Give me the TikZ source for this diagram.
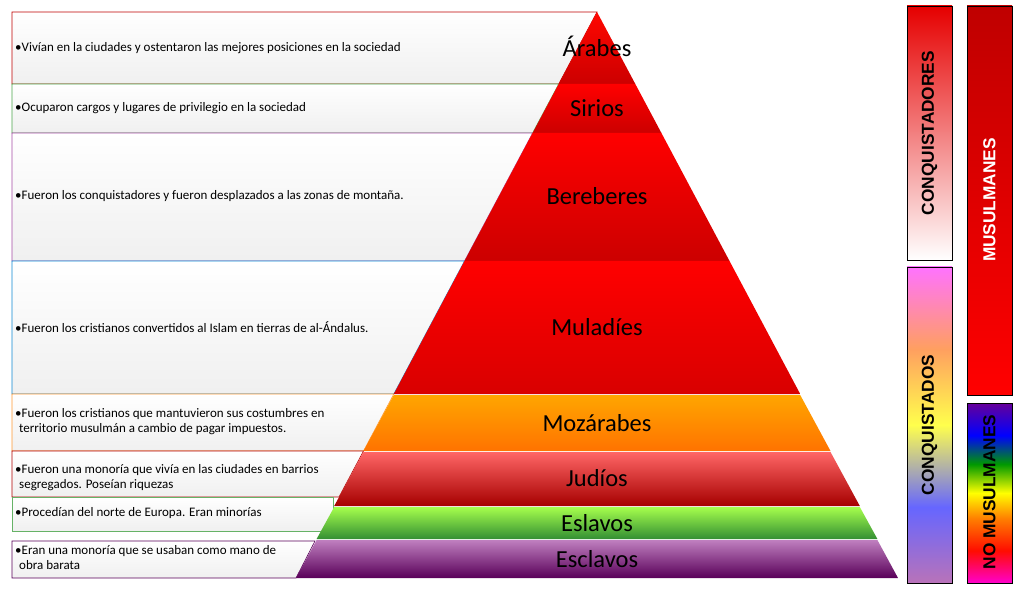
\documentclass[tikz,border=0pt]{standalone}
\usepackage{fontspec}
\setmainfont{Carlito}
\newfontfamily\barfont{Liberation Sans Bold}
\usetikzlibrary{calc}
\pgfdeclareverticalshading{conqdos}{100bp}{color(0bp)=(violet!55!white); color(25bp)=(violet!55!white); color(37bp)=(blue!60!white); color(50bp)=(yellow!70!white); color(62bp)=(orange!50!pink); color(75bp)=(magenta!55!white); color(100bp)=(magenta!55!white)}
\pgfdeclareverticalshading{nomus}{100bp}{color(0bp)=(magenta!80!red); color(25bp)=(magenta!80!red); color(34bp)=(red!90!orange); color(43bp)=(orange); color(50bp)=(yellow); color(58bp)=(green!60!black); color(66bp)=(blue); color(75bp)=(violet!80!blue); color(100bp)=(violet!80!blue)}
\tikzset{
 txt/.style={anchor=west,font=\fontsize{13}{15}\selectfont,align=left,inner sep=0pt},
 lab/.style={font=\fontsize{24.5}{27}\selectfont},
 lbox/.style={top color=white,bottom color=black!6,draw=#1,line width=0.6pt},
 bar/.style={draw=black,line width=0.8pt},
 barlab/.style={rotate=90,font=\barfont\fontsize{17.3}{19}\selectfont}
}
\begin{document}
\begin{tikzpicture}[x=1pt,y=-1pt]
\useasboundingbox (0,0) rectangle (1022,593);
\fill[white] (0,0) rectangle (1022,593);
% left boxes
\path[lbox=red!75!black] (12,12) -- (597,12) -- (558.7,84) -- (12,84) -- cycle;
\path[lbox=green!50!black!70] (12,84) -- (558.7,84) -- (532.6,133) -- (12,133) -- cycle;
\path[lbox=violet!70] (12,133) -- (532.6,133) -- (464.5,261) -- (12,261) -- cycle;
\path[lbox=cyan!70!blue] (12,261) -- (464.5,261) -- (393.8,394) -- (12,394) -- cycle;
\path[lbox=orange!80] (12,394) -- (393.8,394) -- (363.5,451) -- (12,451) -- cycle;
\path[lbox=red!70!black] (12,451) -- (363.5,451) -- (339,497) -- (12,497) -- cycle;
\path[lbox=green!50!black!60] (12,497) rectangle (333,531);
\path[lbox=violet!70!black] (12,541) -- (315,541) -- (296,578) -- (12,578) -- cycle;
% texts
\node[txt] (t1) at (15,48) {•Vivían en la ciudades y ostentaron las mejores posiciones en la sociedad};
\node[txt] (t2) at (15,108) {•Ocuparon cargos y lugares de privilegio en la sociedad};
\node[txt] (t3) at (15,196) {•Fueron los conquistadores y fueron desplazados a las zonas de montaña.};
\node[txt] (t4) at (15,327) {•Fueron los cristianos convertidos al Islam en tierras de al-Ándalus.};
\node[txt] (t5) at (15,422) {•Fueron los cristianos que mantuvieron sus costumbres en\\\hspace*{4pt}territorio musulmán a cambio de pagar impuestos.};
\node[txt] (t6) at (15,478) {•Fueron una monoría que vivía en las ciudades en barrios\\\hspace*{4pt}segregados. Poseían riquezas};
\node[txt] (t7) at (15,513) {•Procedían del norte de Europa. Eran minorías};
\node[txt] (t8) at (15,558) {•Eran una monoría que se usaban como mano de\\\hspace*{4pt}obra barata};
% pyramid
\shade[top color=red!95!orange,bottom color=red!80!black] (597,12) -- (635.3,84) -- (558.7,84) -- cycle;
\shade[top color=red,bottom color=red!80!black] (558.7,84) -- (635.3,84) -- (661.4,133) -- (532.6,133) -- cycle;
\shade[top color=red,bottom color=red!80!black] (532.6,133) -- (661.4,133) -- (729.5,261) -- (464.5,261) -- cycle;
\shade[top color=red,bottom color=red!85!black] (464.5,261) -- (729.5,261) -- (800.2,394) -- (393.8,394) -- cycle;
\shade[top color=orange!70!yellow,bottom color=orange!90!red] (393.8,395) -- (800.2,395) -- (830.5,451) -- (363.5,451) -- cycle;
\shade[top color=red!60!white,bottom color=red!65!black] (363.5,452) -- (830.5,452) -- (859.8,506) -- (334.2,506) -- cycle;
\shade[top color=green!50!yellow!70!white,bottom color=green!45!black!80] (334.2,507) -- (859.8,507) -- (877.4,539) -- (316.6,539) -- cycle;
\shade[top color=violet!50!white,bottom color=violet!70!black] (316.6,540) -- (877.4,540) -- (898,578) -- (296,578) -- cycle;
\node[lab] (p1) at (597,46) {Árabes};
\node[lab] (p2) at (597,108) {Sirios};
\node[lab] (p3) at (597,196) {Bereberes};
\node[lab] (p4) at (597,327) {Muladíes};
\node[lab] (p5) at (597,423) {Mozárabes};
\node[lab] (p6) at (597,478) {Judíos};
\node[lab] (p7) at (597,523) {Eslavos};
\node[lab] (p8) at (597,559) {Esclavos};
% right bars
\shade[bar,top color=red!90!black,bottom color=white] (907,6) rectangle (952,260);
\node[barlab] (b1) at (929.5,133) {CONQUISTADORES};
\shade[bar,shading=conqdos] (907,267) rectangle (952,583);
\node[barlab] (b2) at (929.5,425) {CONQUISTADOS};
\shade[bar,top color=red!75!black,bottom color=red] (967,6) rectangle (1012,395);
\node[barlab,white] (b3) at (989.5,200) {MUSULMANES};
\shade[bar,shading=nomus] (967,403) rectangle (1012,583);
\node[barlab] (b4) at (989.5,492) {NO MUSULMANES};
\end{tikzpicture}
\end{document}
